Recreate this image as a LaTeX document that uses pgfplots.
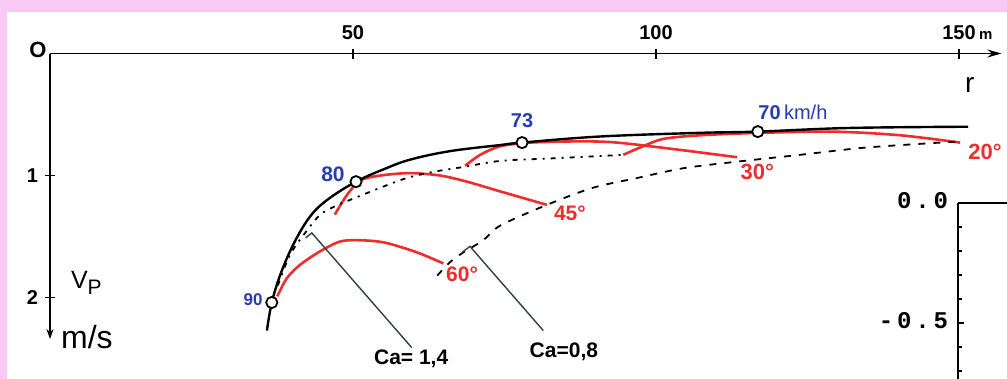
\documentclass[border=0pt]{standalone}
\usepackage{pgfplots}
\pgfplotsset{compat=1.18}
\usepackage{fontspec}
\setmainfont{Liberation Sans}
\setmonofont{Liberation Mono}
\newfontfamily\dotfont[LetterSpace=16]{Liberation Mono}
\usetikzlibrary{arrows.meta}
\definecolor{bgpink}{RGB}{247,201,243}
\definecolor{lblblue}{RGB}{40,60,175}
\definecolor{curvered}{RGB}{240,45,45}
\definecolor{leader}{RGB}{50,65,60}
\begin{document}
\begin{tikzpicture}
% 1 px of the reference = 0.5pt
\fill[bgpink] (0,0) rectangle (503.5pt,-189.5pt);
\fill[white] (3.5pt,-6pt) rectangle (503.5pt,-189.5pt);
\clip (0,0) rectangle (503.5pt,-189.5pt);

\begin{axis}[
  at={(25pt,-26.75pt)}, anchor=north west,
  scale only axis, width=475.7pt, height=142.8pt,
  xmin=0, xmax=157, ymin=0, ymax=2.34, y dir=reverse,
  axis x line=top, axis y line=left,
  x axis line style={-{Stealth[length=7pt,width=4pt]}, line width=0.9pt},
  y axis line style={-{Stealth[length=5pt,width=3.5pt]}, line width=0.8pt},
  xtick={50,100,150}, xticklabels={50,100,{150\rlap{\,\fontsize{7.5}{9}\selectfont m}}},
  ytick={1,2}, yticklabels={1,2},
  tick align=center, major tick length=5pt,
  tick style={black, line width=0.8pt},
  ticklabel style={font=\fontsize{10}{12}\selectfont\bfseries},
  xticklabel style={yshift=1pt},
  clip=false,
]
% constant-angle curves
\addplot[curvered, line width=1.3pt, smooth, tension=0.5] coordinates {
  (37.5,1.99) (39.1,1.84) (41.3,1.73) (44.6,1.62) (47.9,1.54) (51.2,1.53)
  (55.3,1.55) (60.6,1.63) (64.9,1.72)};
\addplot[curvered, line width=1.3pt, smooth, tension=0.5] coordinates {
  (47.0,1.32) (49.0,1.16) (51.2,1.04) (54.5,1.00) (59.4,0.98) (64.4,1.00)
  (68.8,1.05) (74.3,1.13) (82.0,1.24)};
\addplot[curvered, line width=1.3pt, smooth, tension=0.5] coordinates {
  (68.5,0.92) (71.0,0.83) (74.3,0.76) (79.2,0.73) (87.5,0.72) (93.6,0.73)
  (104.0,0.79) (113.4,0.85)};
\addplot[curvered, line width=1.3pt, smooth, tension=0.5] coordinates {
  (94.6,0.83) (97.4,0.77) (101.2,0.70) (107.3,0.67) (117.2,0.65) (129.2,0.64)
  (140.3,0.67) (150.2,0.73)};
% Ca = 1.4
\addplot[black, line width=0.9pt, smooth, tension=0.5,
  dash pattern=on 2.5pt off 3pt on 1pt off 3pt] coordinates {
  (37.6,1.90) (39.6,1.65) (42.1,1.47) (44.6,1.32) (47.5,1.24) (49.5,1.20)
  (54.5,1.10) (58.9,1.02) (63.2,0.97) (68.2,0.93) (74.3,0.88) (82.5,0.86)
  (90.8,0.84) (94.6,0.83)};
% Ca = 0.8
\addplot[black, line width=0.9pt, smooth, tension=0.5,
  dash pattern=on 3.5pt off 4pt] coordinates {
  (63.9,1.82) (66.0,1.71) (68.2,1.63) (71.5,1.53) (74.3,1.41) (82.0,1.24)
  (89.6,1.10) (96.9,1.02) (104.5,0.94) (112.7,0.89) (123.8,0.83) (134.8,0.77)
  (150.2,0.72)};
% envelope
\addplot[black, line width=1.2pt, smooth, tension=0.6] coordinates {
  (35.8,2.27) (36.6,2.04) (38.1,1.80) (40.3,1.55) (43.0,1.33) (46.0,1.19)
  (50.5,1.05) (55.0,0.95) (59.4,0.87) (66.0,0.80) (74.3,0.75)
  (77.9,0.73) (90.8,0.68) (107.3,0.65) (116.8,0.64) (132.0,0.61) (151.5,0.60)};
% leaders
\addplot[leader, line width=0.7pt] coordinates {(42.2,1.51) (43.2,1.47) (59.7,2.41)};
\addplot[leader, line width=0.7pt] coordinates {(68.0,1.63) (69.3,1.58) (81.4,2.27)};
% speed points
\addplot[only marks, mark=*, mark size=2.8pt,
  mark options={fill=white, draw=black, line width=0.9pt}] coordinates {
  (36.6,2.04) (50.5,1.05) (77.9,0.73) (116.8,0.64)};

\node[font=\fontsize{11}{12}\selectfont\bfseries] at (axis cs:-2,-0.03) {O};
\node[font=\fontsize{14}{16}\selectfont] at (axis cs:151.8,0.26) {r};
\node[font=\fontsize{12.5}{14}\selectfont] at (axis cs:6.0,1.88) {V\raisebox{-0.45ex}{\fontsize{10.5}{12}\selectfont P}};
\node[font=\fontsize{16}{18}\selectfont] at (axis cs:6.1,2.32) {m/s};

\node[lblblue, font=\fontsize{8.5}{10}\selectfont\bfseries] at (axis cs:33.5,2.02) {90};
\node[lblblue, font=\fontsize{10.5}{12}\selectfont\bfseries] at (axis cs:46.7,0.99) {80};
\node[lblblue, font=\fontsize{10}{12}\selectfont\bfseries] at (axis cs:77.9,0.55) {73};
\node[lblblue, font=\fontsize{10}{12}\selectfont] at (axis cs:122.6,0.48) {\textbf{70}\,km/h};

\node[curvered, font=\fontsize{10.5}{12}\selectfont\bfseries] at (axis cs:68.0,1.81) {60°};
\node[curvered, font=\fontsize{10.5}{12}\selectfont\bfseries] at (axis cs:85.8,1.31) {45°};
\node[curvered, font=\fontsize{11}{12}\selectfont\bfseries] at (axis cs:116.7,0.97) {30°};
\node[curvered, font=\fontsize{11}{12}\selectfont\bfseries] at (axis cs:154.3,0.81) {20°};

\node[font=\fontsize{10.5}{12}\selectfont\bfseries] at (axis cs:59.6,2.5) {Ca= 1,4};
\node[font=\fontsize{10.5}{12}\selectfont\bfseries] at (axis cs:84.8,2.44) {Ca=0,8};
\end{axis}

% fragment of a neighbouring chart at the lower right
\begin{axis}[
  at={(479pt,-101.5pt)}, anchor=north west,
  scale only axis, width=50pt, height=88pt,
  xmin=0, xmax=1, ymin=-0.733, ymax=0,
  axis x line=top, axis y line=left,
  axis line style={-, line width=1.2pt},
  xtick={0.58}, xticklabels={},
  ytick={-0.5,0}, yticklabels={-0.5,0.0},
  minor ytick={-0.7,-0.6,-0.4,-0.3,-0.2,-0.1},
  tick align=inside, major tick length=3pt, minor tick length=2pt,
  tick style={black, line width=0.8pt},
  yticklabel style={font=\fontsize{12}{14}\selectfont\dotfont\bfseries, xshift=-1.5pt, yshift=1pt},
]
\end{axis}
\end{tikzpicture}
\end{document}
